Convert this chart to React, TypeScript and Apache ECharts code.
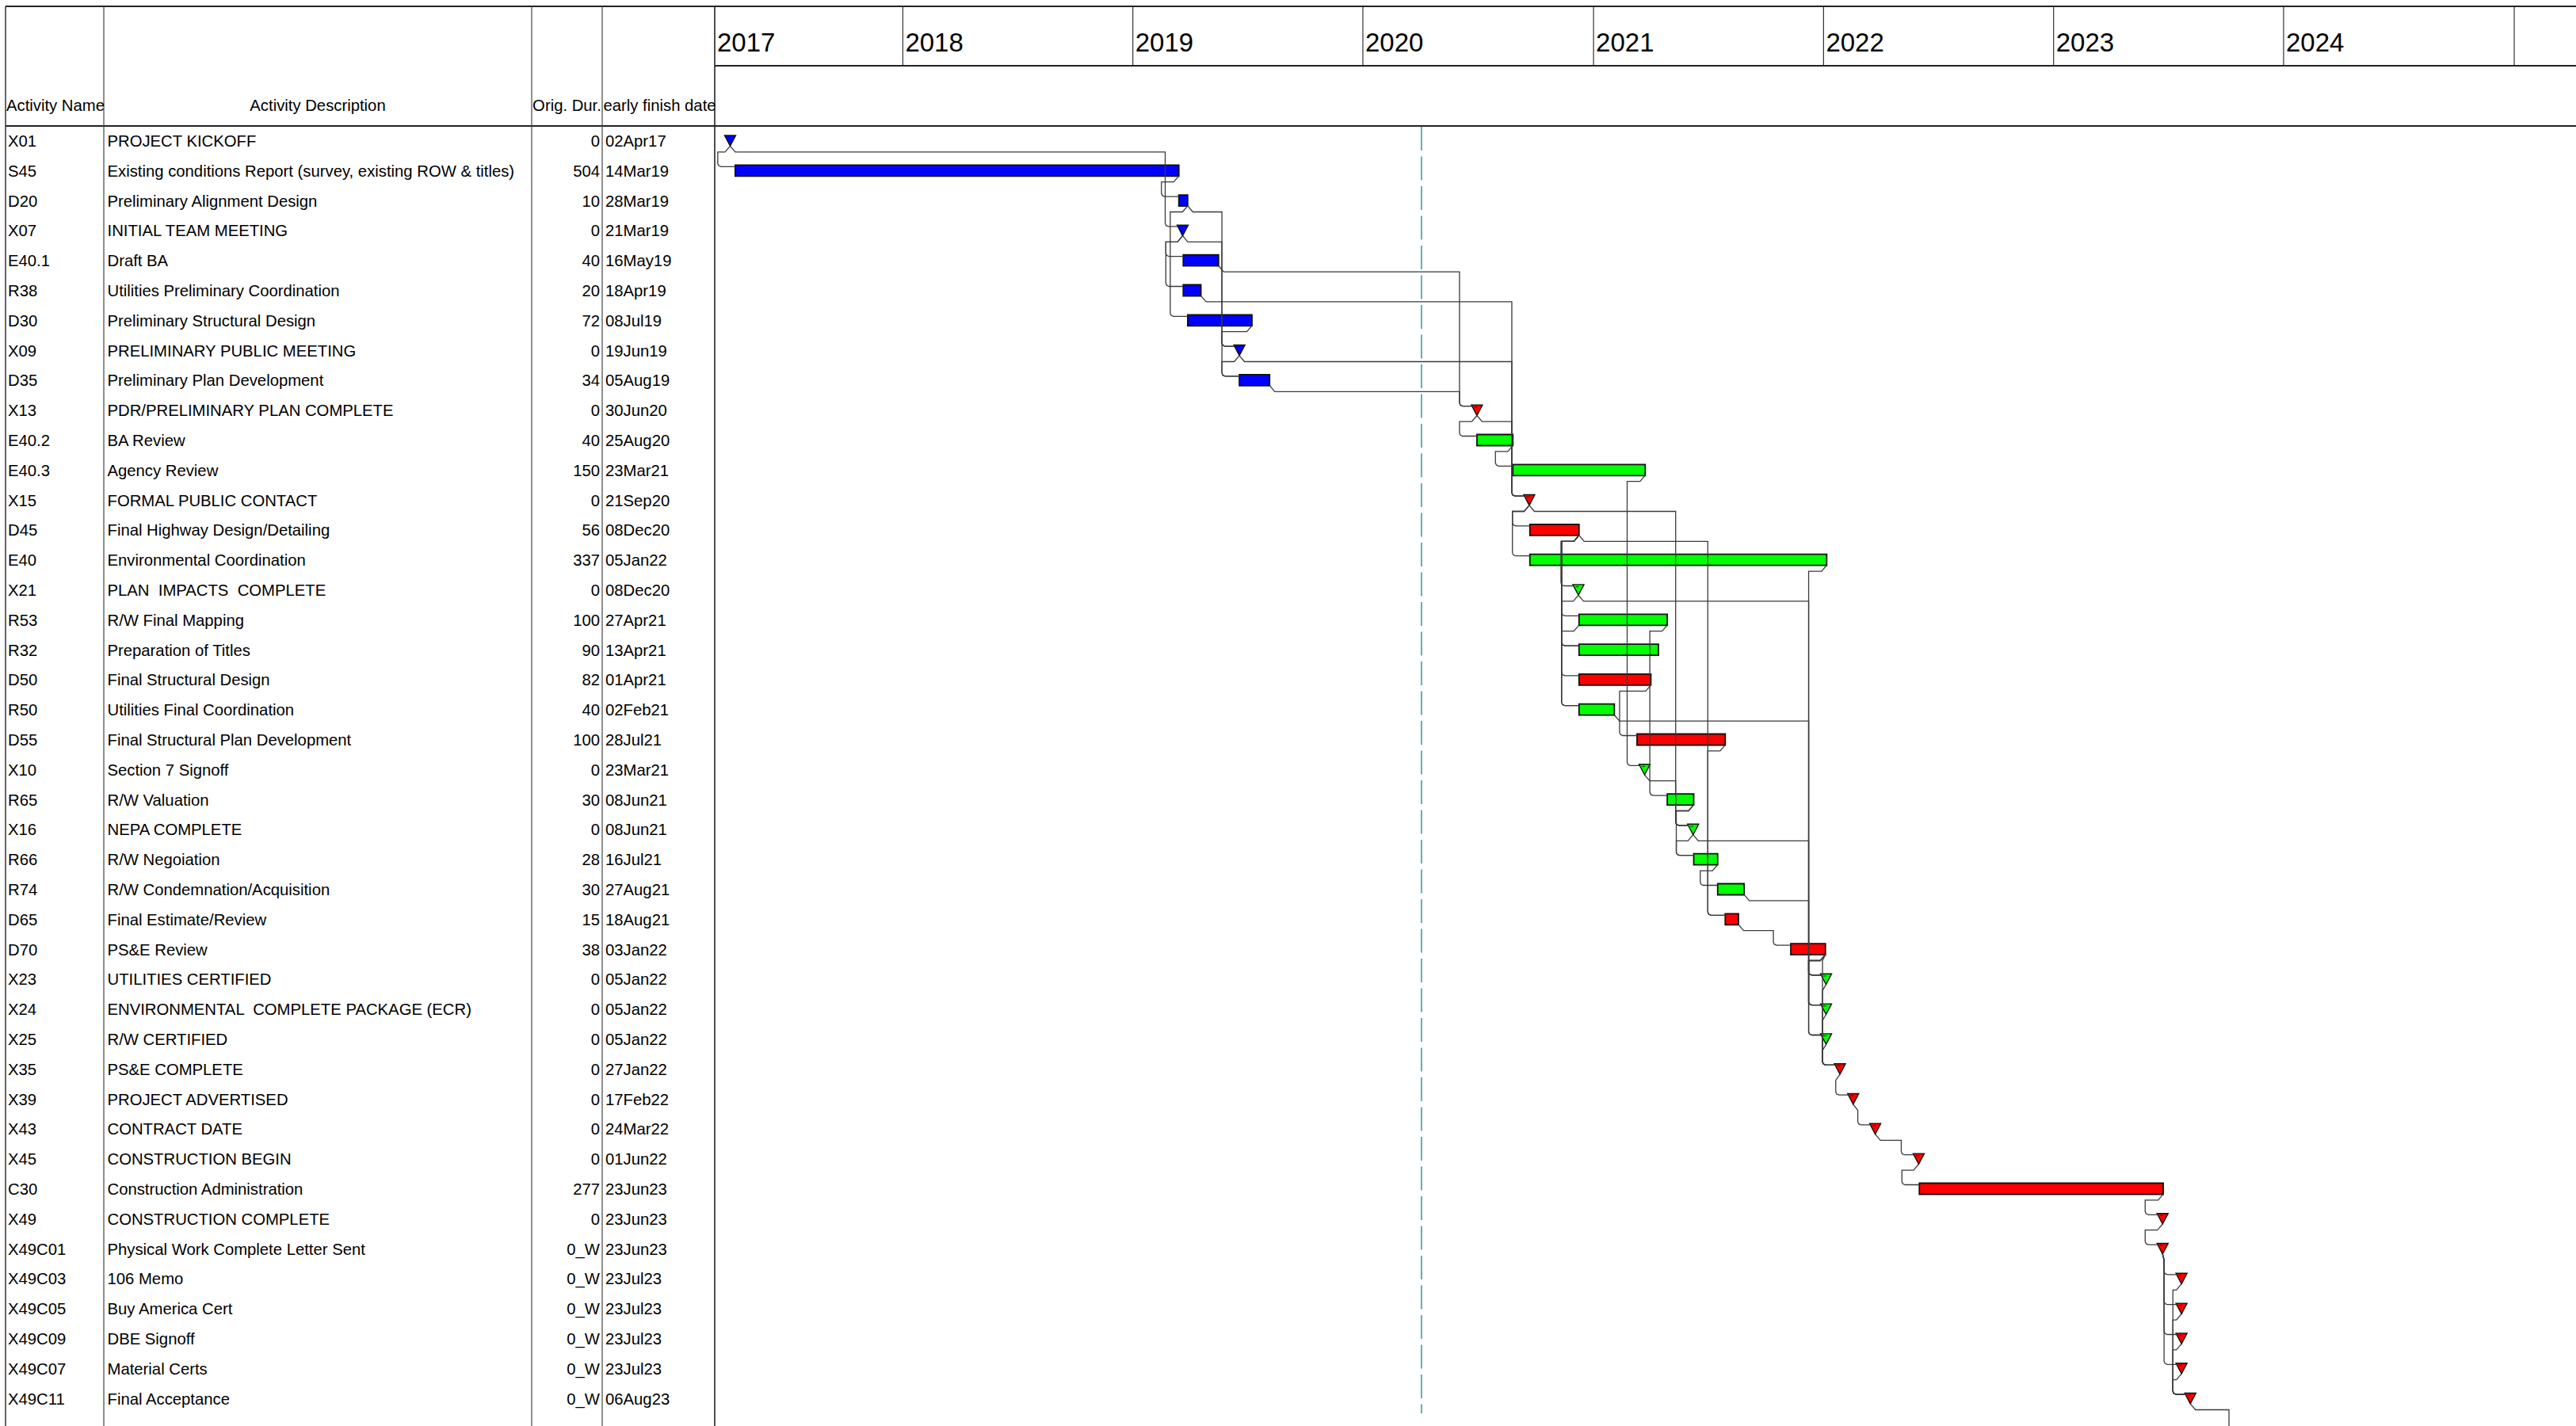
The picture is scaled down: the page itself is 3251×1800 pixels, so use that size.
import React, { useEffect, useRef } from 'react';
import * as echarts from 'echarts';

// ---------------- DATA ----------------
const activityIds = [
  'X01', 'S45', 'D20', 'X07', 'E40.1', 'R38', 'D30', 'X09', 'D35', 'X13',
  'E40.2', 'E40.3', 'X15', 'D45', 'E40', 'X21', 'R53', 'R32', 'D50', 'R50',
  'D55', 'X10', 'R65', 'X16', 'R66', 'R74', 'D65', 'D70', 'X23', 'X24',
  'X25', 'X35', 'X39', 'X43', 'X45', 'C30', 'X49', 'X49C01', 'X49C03', 'X49C05',
  'X49C09', 'X49C07', 'X49C11',
];

const activityDescriptions = [
  'PROJECT KICKOFF',
  'Existing conditions Report (survey, existing ROW & titles)',
  'Preliminary Alignment Design',
  'INITIAL TEAM MEETING',
  'Draft BA',
  'Utilities Preliminary Coordination',
  'Preliminary Structural Design',
  'PRELIMINARY PUBLIC MEETING',
  'Preliminary Plan Development',
  'PDR/PRELIMINARY PLAN COMPLETE',
  'BA Review',
  'Agency Review',
  'FORMAL PUBLIC CONTACT',
  'Final Highway Design/Detailing',
  'Environmental Coordination',
  'PLAN  IMPACTS  COMPLETE',
  'R/W Final Mapping',
  'Preparation of Titles',
  'Final Structural Design',
  'Utilities Final Coordination',
  'Final Structural Plan Development',
  'Section 7 Signoff',
  'R/W Valuation',
  'NEPA COMPLETE',
  'R/W Negoiation',
  'R/W Condemnation/Acquisition',
  'Final Estimate/Review',
  'PS&E Review',
  'UTILITIES CERTIFIED',
  'ENVIRONMENTAL  COMPLETE PACKAGE (ECR)',
  'R/W CERTIFIED',
  'PS&E COMPLETE',
  'PROJECT ADVERTISED',
  'CONTRACT DATE',
  'CONSTRUCTION BEGIN',
  'Construction Administration',
  'CONSTRUCTION COMPLETE',
  'Physical Work Complete Letter Sent',
  '106 Memo',
  'Buy America Cert',
  'DBE Signoff',
  'Material Certs',
  'Final Acceptance',
];

const originalDurations = [
  '0', '504', '10', '0', '40', '20', '72', '0', '34', '0',
  '40', '150', '0', '56', '337', '0', '100', '90', '82', '40',
  '100', '0', '30', '0', '28', '30', '15', '38', '0', '0',
  '0', '0', '0', '0', '0', '277', '0', '0_W', '0_W', '0_W',
  '0_W', '0_W', '0_W',
];

const earlyFinishLabels = [
  '02Apr17', '14Mar19', '28Mar19', '21Mar19', '16May19', '18Apr19', '08Jul19', '19Jun19', '05Aug19', '30Jun20',
  '25Aug20', '23Mar21', '21Sep20', '08Dec20', '05Jan22', '08Dec20', '27Apr21', '13Apr21', '01Apr21', '02Feb21',
  '28Jul21', '23Mar21', '08Jun21', '08Jun21', '16Jul21', '27Aug21', '18Aug21', '03Jan22', '05Jan22', '05Jan22',
  '05Jan22', '27Jan22', '17Feb22', '24Mar22', '01Jun22', '23Jun23', '23Jun23', '23Jun23', '23Jul23', '23Jul23',
  '23Jul23', '23Jul23', '06Aug23',
];

const startDates = [
  '2017-04-02', '2017-04-10', '2019-03-15', '2019-03-21', '2019-03-22', '2019-03-22', '2019-03-29', '2019-06-19', '2019-06-19', '2020-06-30',
  '2020-06-30', '2020-08-26', '2020-09-21', '2020-09-22', '2020-09-22', '2020-12-08', '2020-12-09', '2020-12-09', '2020-12-09', '2020-12-09',
  '2021-03-11', '2021-03-23', '2021-04-28', '2021-06-08', '2021-06-09', '2021-07-17', '2021-07-29', '2021-11-10', '2022-01-05', '2022-01-05',
  '2022-01-05', '2022-01-27', '2022-02-17', '2022-03-24', '2022-06-01', '2022-06-02', '2023-06-23', '2023-06-23', '2023-07-23', '2023-07-23',
  '2023-07-23', '2023-07-23', '2023-08-06',
];

const finishDates = [
  '2017-04-02', '2019-03-14', '2019-03-28', '2019-03-21', '2019-05-16', '2019-04-18', '2019-07-08', '2019-06-19', '2019-08-05', '2020-06-30',
  '2020-08-25', '2021-03-23', '2020-09-21', '2020-12-08', '2022-01-05', '2020-12-08', '2021-04-27', '2021-04-13', '2021-04-01', '2021-02-02',
  '2021-07-28', '2021-03-23', '2021-06-08', '2021-06-08', '2021-07-16', '2021-08-27', '2021-08-18', '2022-01-03', '2022-01-05', '2022-01-05',
  '2022-01-05', '2022-01-27', '2022-02-17', '2022-03-24', '2022-06-01', '2023-06-23', '2023-06-23', '2023-06-23', '2023-07-23', '2023-07-23',
  '2023-07-23', '2023-07-23', '2023-08-06',
];

const barColorKeys = [
  'blue', 'blue', 'blue', 'blue', 'blue', 'blue', 'blue', 'blue', 'blue', 'red',
  'green', 'green', 'red', 'red', 'green', 'green', 'green', 'green', 'red', 'green',
  'red', 'green', 'green', 'green', 'green', 'green', 'red', 'red', 'green', 'green',
  'green', 'red', 'red', 'red', 'red', 'red', 'red', 'red', 'red', 'red',
  'red', 'red', 'red',
];

// predecessor, successor, relationship type
const relationships: [string, string, string][] = [
  ['X01', 'S45', 'FS'], ['X01', 'X07', 'FS'], ['S45', 'D20', 'FS'], ['D20', 'D30', 'FS'],
  ['D20', 'D35', 'FS'], ['X07', 'E40.1', 'FS'], ['X07', 'R38', 'FS'], ['X07', 'X09', 'FS'],
  ['D30', 'X09', 'FS'], ['X09', 'D35', 'FS'], ['X09', 'X15', 'FS'], ['R38', 'X15', 'FS'],
  ['E40.1', 'X13', 'FS'], ['D35', 'X13', 'FS'], ['X13', 'E40.2', 'FS'], ['X13', 'X15', 'FS'],
  ['E40.2', 'E40.3', 'FS'], ['X15', 'D45', 'FS'], ['X15', 'E40', 'FS'], ['X15', 'X16', 'FS'],
  ['E40.3', 'X10', 'FS'], ['D45', 'X21', 'FS'], ['D45', 'R53', 'FS'], ['D45', 'R32', 'FS'],
  ['D45', 'D50', 'FS'], ['D45', 'R50', 'FS'], ['D45', 'D65', 'FS'], ['X21', 'R50', 'FS'],
  ['X21', 'X23', 'FS'], ['R53', 'R32', 'SS'], ['R53', 'R65', 'FS'], ['D50', 'D55', 'FS'],
  ['R50', 'X23', 'FS'], ['D55', 'D65', 'FS'], ['X10', 'X16', 'FS'], ['R65', 'X16', 'FS'],
  ['R65', 'R66', 'FS'], ['X16', 'R66', 'FS'], ['X16', 'X24', 'FS'], ['R66', 'R74', 'FS'],
  ['R74', 'X25', 'FS'], ['D65', 'D70', 'FS'], ['E40', 'X24', 'FS'], ['D70', 'X23', 'FS'],
  ['D70', 'X24', 'FS'], ['D70', 'X25', 'FS'], ['D70', 'X35', 'FS'], ['X23', 'X35', 'FS'],
  ['X24', 'X35', 'FS'], ['X25', 'X35', 'FS'], ['X35', 'X39', 'FS'], ['X39', 'X43', 'FS'],
  ['X43', 'X45', 'FS'], ['X45', 'C30', 'FS'], ['C30', 'X49', 'FS'], ['X49', 'X49C01', 'FS'],
  ['X49C01', 'X49C03', 'FS'], ['X49C01', 'X49C05', 'FS'], ['X49C01', 'X49C09', 'FS'], ['X49C01', 'X49C07', 'FS'],
  ['X49C03', 'X49C11', 'FS'], ['X49C05', 'X49C11', 'FS'], ['X49C09', 'X49C11', 'FS'], ['X49C07', 'X49C11', 'FS'],
];

// successor on the next page (below the visible rows)
const offPagePredecessors = ['X49C11'];
const offPageSuccessorStarts = ['2023-11-03'];

const yearTicks = ['2017-01-01', '2018-01-01', '2019-01-01', '2020-01-01', '2021-01-01', '2022-01-01', '2023-01-01', '2024-01-01', '2025-01-01'];
const yearLabels = ['2017', '2018', '2019', '2020', '2021', '2022', '2023', '2024', ''];

const dataDate = '2020-04-03';
const axisStart = '2017-03-08T12:00:00Z';
const axisEnd = '2025-04-09T00:00:00Z';

const columnHeaders = ['Activity Name', 'Activity Description', 'Orig. Dur.', 'early finish date'];

// ---------------- HELPERS ----------------
const DAY = 86400000;
const FONT = '"Liberation Sans", Arial, Helvetica, sans-serif';
const palette: Record<string, string> = { blue: '#0000ff', green: '#00ff00', red: '#ff0000' };
const paletteKeys = ['blue', 'green', 'red'];
const markShade: Record<string, string> = { blue: '#000060', green: '#006000', red: '#700000' };

const t = (d: string) => Date.parse(d);
const isMilestone = originalDurations.map((d) => d.startsWith('0'));
const idxOf = (id: string) => activityIds.indexOf(id);
const barEndTime = (i: number) => (isMilestone[i] ? t(finishDates[i]) : t(finishDates[i]) + DAY);

function txt(text: string, x: number, y: number, align: string, size = 20.3) {
  return {
    type: 'text',
    silent: true,
    style: {
      text, x, y,
      font: `${size}px ${FONT}`,
      fill: '#000',
      align, textAlign: align,
      verticalAlign: 'middle', textVerticalAlign: 'middle',
    },
  };
}

function hLine(x1: number, y1: number, x2: number, y2: number, w = 1.2, c = '#333') {
  return { type: 'line', silent: true, z: 50, shape: { x1, y1, x2, y2 }, style: { stroke: c, lineWidth: w } };
}

export default function App() {
  const ref = useRef<HTMLDivElement>(null);

  useEffect(() => {
    if (!ref.current) return;
    const chart = echarts.init(ref.current, undefined, { renderer: 'svg' });

    const GRID_LEFT = 902;
    const GRID_TOP = 159;
    const ROW_PITCH = 37.8;
    const FIRST_ROW_CENTER = 177.5;
    const H = 1800;
    const yMin = -(FIRST_ROW_CENTER - GRID_TOP) / ROW_PITCH;
    const yMax = yMin + (H - GRID_TOP) / ROW_PITCH;

    const tableData = activityIds.map((_, i) => [t(axisStart), i]);
    const barData = activityIds.map((_, i) => [
      t(startDates[i]), barEndTime(i), i, paletteKeys.indexOf(barColorKeys[i]), isMilestone[i] ? 1 : 0,
    ]);
    const linkData: number[][] = relationships.map(([p, s, type]) => {
      const pi = idxOf(p);
      const si = idxOf(s);
      const exitT = type === 'SS' ? t(startDates[pi]) : barEndTime(pi);
      return [exitT, pi, t(startDates[si]), si, isMilestone[si] ? 1 : 0];
    });
    offPagePredecessors.forEach((p, k) => {
      const pi = idxOf(p);
      linkData.push([barEndTime(pi), pi, t(offPageSuccessorStarts[k]), activityIds.length + 1, 1]);
    });
    const yearData = yearTicks.map((d, i) => [t(d), 0, i]);

    const graphics: any[] = [
      hLine(7, 8, 3251, 8, 2, '#222'),
      hLine(GRID_LEFT, 83, 3251, 83, 2, '#222'),
      hLine(7, GRID_TOP, 3251, GRID_TOP, 2, '#222'),
      hLine(7, 8, 7, H, 1.5, '#333'),
      hLine(131, 8, 131, H, 1.2, '#444'),
      hLine(671, 8, 671, H, 1.2, '#444'),
      hLine(760, 8, 760, H, 1.2, '#444'),
      hLine(GRID_LEFT, 8, GRID_LEFT, H, 1.6, '#222'),
      { ...txt(columnHeaders[0], 8, 133, 'left'), z: 50 },
      { ...txt(columnHeaders[1], 401, 133, 'center'), z: 50 },
      { ...txt(columnHeaders[2], 715.5, 133, 'center'), z: 50 },
      { ...txt(columnHeaders[3], 761.5, 133, 'left'), z: 50 },
    ];

    const option: any = {
      animation: false,
      backgroundColor: '#ffffff',
      grid: { left: GRID_LEFT, right: 0, top: GRID_TOP, bottom: 0, containLabel: false },
      xAxis: { type: 'time', min: t(axisStart), max: t(axisEnd), show: false },
      yAxis: { type: 'value', min: yMin, max: yMax, inverse: true, show: false },
      graphic: graphics,
      series: [
        {
          type: 'custom',
          name: 'table',
          silent: true,
          z: 5,
          data: tableData,
          renderItem: (params: any, api: any) => {
            const i = api.value(1);
            const y = api.coord([api.value(0), i])[1] + 0.5;
            return {
              type: 'group',
              children: [
                txt(activityIds[i], 10, y, 'left'),
                txt(activityDescriptions[i], 135.5, y, 'left'),
                txt(originalDurations[i], 757, y, 'right'),
                txt(earlyFinishLabels[i], 764, y, 'left'),
              ],
            };
          },
        },
        {
          type: 'custom',
          name: 'years',
          silent: true,
          z: 5,
          data: yearData,
          renderItem: (params: any, api: any) => {
            const x = api.coord([api.value(0), 0])[0];
            const idx = api.value(2);
            const left = params.coordSys.x;
            const children: any[] = [];
            if (x > left + 1 && x < 3251) {
              children.push({ type: 'line', shape: { x1: x, y1: 8, x2: x, y2: 83 }, style: { stroke: '#333', lineWidth: 1.2 } });
            }
            const label = yearLabels[idx];
            if (label && x + 80 > left) {
              children.push(txt(label, Math.max(x, left) + 3, 53, 'left', 33));
            }
            return { type: 'group', children };
          },
        },
        {
          type: 'custom',
          name: 'dataDate',
          silent: true,
          z: 6,
          data: [[t(dataDate), 0]],
          renderItem: (params: any, api: any) => {
            const x = api.coord([api.value(0), 0])[0];
            const top = params.coordSys.y;
            return {
              type: 'line',
              shape: { x1: x, y1: top + 1, x2: x, y2: top + params.coordSys.height - 16 },
              style: { stroke: '#5fb0b4', lineWidth: 2, lineDash: [30, 7.5] },
            };
          },
        },
        {
          type: 'custom',
          name: 'bars',
          silent: true,
          z: 8,
          data: barData,
          renderItem: (params: any, api: any) => {
            const s = api.coord([api.value(0), api.value(2)]);
            const f = api.coord([api.value(1), api.value(2)]);
            const key = paletteKeys[api.value(3)];
            const color = palette[key];
            const c = s[1];
            if (api.value(4)) {
              const x = s[0];
              return {
                type: 'group',
                children: [
                  {
                    type: 'polygon',
                    shape: { points: [[x - 7, c - 6.6], [x + 7, c - 6.6], [x, c + 6.8]] },
                    style: { fill: color, stroke: '#111', lineWidth: 1.4 },
                  },
                  {
                    type: 'line',
                    shape: { x1: x - 3.5, y1: c - 4, x2: x + 0.5, y2: c - 4 },
                    style: { stroke: markShade[key], lineWidth: 1.3 },
                  },
                ],
              };
            }
            return {
              type: 'rect',
              shape: { x: s[0], y: c - 7, width: Math.max(f[0] - s[0], 2), height: 14 },
              style: { fill: color, stroke: '#111', lineWidth: 1.8 },
            };
          },
        },
        {
          type: 'custom',
          name: 'links',
          silent: true,
          z: 10,
          data: linkData,
          renderItem: (params: any, api: any) => {
            const a = api.coord([api.value(0), api.value(1)]);
            const b = api.coord([api.value(2), api.value(3)]);
            const ms = api.value(4);
            const exitTop = a[1] + 6.8;
            const exitY = a[1] + 14.4;
            const T = b[0] - 22;
            const entryY = b[1] - 5;
            const xEnd = ms ? b[0] - 6 : b[0];
            const dx = T - a[0];
            const legX = Math.abs(dx) < 6.5 ? T : a[0] + Math.sign(dx) * 6.5;
            const pts = [
              [a[0], exitTop],
              [legX, exitY],
              [T, exitY],
              [T, entryY - 4],
              [T + 1.2, entryY - 1.2],
              [T + 4, entryY],
              [xEnd, entryY],
            ];
            return {
              type: 'polyline',
              shape: { points: pts },
              style: { stroke: '#3a3a3a', lineWidth: 1.3, fill: null },
            };
          },
        },
      ],
    };

    chart.setOption(option);
    return () => chart.dispose();
  }, []);

  return (
    <div
      ref={ref}
      style={{ position: 'fixed', left: 0, top: 0, width: 3251, height: 1800, background: '#fff' }}
    />
  );
}
